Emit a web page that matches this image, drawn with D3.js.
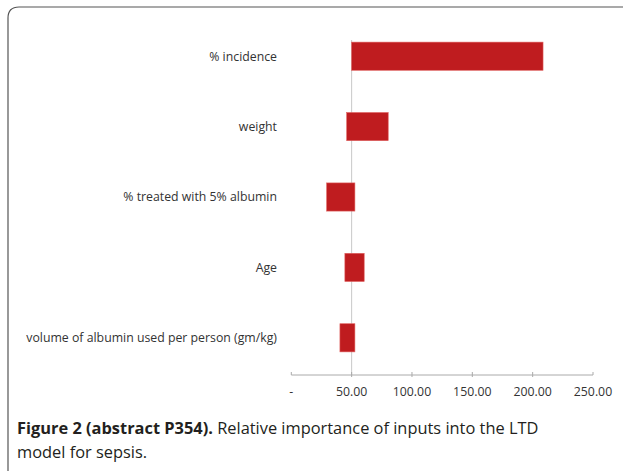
<!DOCTYPE html>
<html><head><meta charset="utf-8">
<script src="https://cdn.jsdelivr.net/npm/d3@7"></script>
<style>body{margin:0;background:#fff;}svg{display:block;}</style>
</head><body>
<svg id="c" width="626" height="471"></svg>
<script>
const categories = ["% incidence", "weight", "% treated with 5% albumin", "Age", "volume of albumin used per person (gm/kg)"];
const lowValues  = [50, 45.9, 29.3, 44.4, 40.3];
const highValues = [208.6, 80.3, 52.7, 60.4, 52.7];
const baseValue = 50;
const tickValues = [0, 50, 100, 150, 200, 250];
const tickLabels = ["-", "50.00", "100.00", "150.00", "200.00", "250.00"];

const svg = d3.select("#c");
// frame
svg.append("path")
  .attr("d", "M8,480 L8,18 Q8,7 19,7 L623,7")
  .attr("fill","none").attr("stroke","#555").attr("stroke-width",1.2);

const x = d3.scaleLinear().domain([0,250]).range([291.3, 593]);
const y = d3.scaleBand().domain(categories).range([21, 373]).paddingInner(0.6).paddingOuter(0.3);

// baseline
svg.append("line").attr("x1",x(baseValue)).attr("x2",x(baseValue))
  .attr("y1",40).attr("y2",375).attr("stroke","#c8c8c8").attr("stroke-width",1);

// bars
svg.selectAll("rect.bar").data(categories).join("rect")
  .attr("class","bar")
  .attr("x",(d,i)=>x(lowValues[i]))
  .attr("width",(d,i)=>x(highValues[i])-x(lowValues[i]))
  .attr("y",d=>y(d)).attr("height",y.bandwidth())
  .attr("fill","#bf1c1f").attr("stroke","#e0605e").attr("stroke-width",0.6);

// category labels
svg.selectAll("text.cat").data(categories).join("text")
  .attr("class","cat")
  .attr("x",277).attr("y",d=>y(d)+y.bandwidth()/2)
  .attr("dy","0.35em").attr("text-anchor","end")
  .attr("font-family","Open Sans").attr("font-size",12.3).attr("fill","#333")
  .text(d=>d);

// axis
const axisY = 375;
const g = svg.append("g").attr("transform",`translate(0,${axisY})`);
g.append("line").attr("x1",x(0)).attr("x2",x(250)).attr("stroke","#aaa");
g.selectAll("line.tk").data(tickValues).join("line").attr("class","tk")
  .attr("x1",d=>x(d)).attr("x2",d=>x(d)).attr("y1",-3).attr("y2",(d)=> (d===0||d===250)?0:2)
  .attr("stroke","#aaa");
g.selectAll("text.tl").data(tickValues).join("text").attr("class","tl")
  .attr("x",d=>x(d)).attr("y",21).attr("text-anchor","middle")
  .attr("font-family","Open Sans").attr("font-size",12.3).attr("fill","#333")
  .text((d,i)=>tickLabels[i]);

// caption
const cap = svg.append("text").attr("x",17).attr("y",434)
  .attr("font-family","Open Sans").attr("font-size",16.4).attr("fill","#231f20");
cap.append("tspan").attr("font-weight","bold").text("Figure 2 (abstract P354).");
cap.append("tspan").text(" Relative importance of inputs into the LTD");
svg.append("text").attr("x",17).attr("y",458)
  .attr("font-family","Open Sans").attr("font-size",16.4).attr("fill","#231f20")
  .text("model for sepsis.");
</script>
</body></html>
